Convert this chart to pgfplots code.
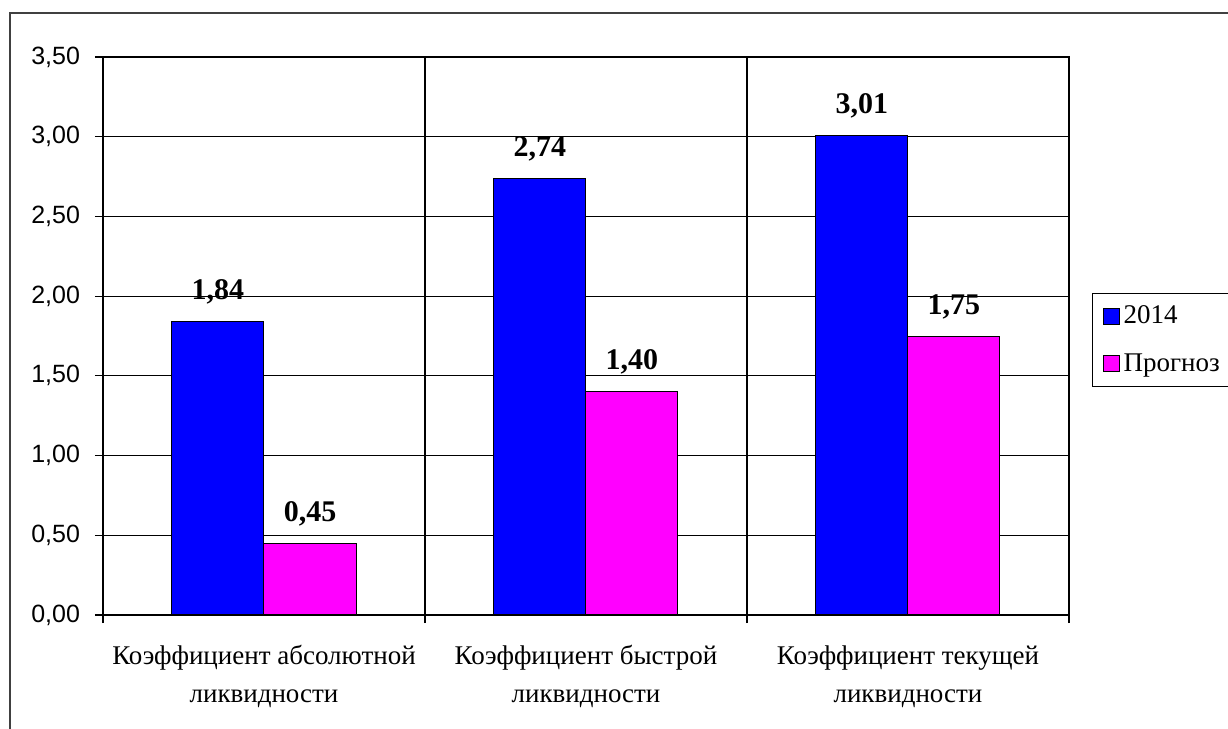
\documentclass[border=0pt]{standalone}
\usepackage{fontspec}
\usepackage{pgfplots}
\pgfplotsset{compat=1.18}
\setmainfont{Liberation Serif}
\newfontfamily\ticksans{Liberation Sans}

\definecolor{barblue}{RGB}{0,0,255}
\definecolor{barpink}{RGB}{255,0,255}
\definecolor{framegray}{RGB}{64,64,64}

\begin{document}
\begin{tikzpicture}[x=1pt,y=1pt]
\useasboundingbox (0pt,0pt) rectangle (614pt,364.5pt);
\clip (0pt,0pt) rectangle (614pt,364.5pt);
\fill[white] (0pt,0pt) rectangle (614pt,364.5pt);
% chart area frame (runs off the right and bottom edges)
\draw[line width=1pt, framegray] (5pt,-20pt) rectangle (640pt,358pt);
\begin{axis}[
  at={(51.5pt,57pt)}, anchor=south west,
  scale only axis, width=483pt, height=279pt,
  xmin=-0.5, xmax=2.5,
  ymin=0, ymax=3.5,
  ytick={0,0.5,1,1.5,2,2.5,3,3.5},
  xtick={0,1,2},
  xticklabels={{Коэффициент абсолютной\\ликвидности},
               {Коэффициент быстрой\\ликвидности},
               {Коэффициент текущей\\ликвидности}},
  minor xtick={-0.5,0.5,1.5,2.5},
  xminorgrids, ymajorgrids,
  grid style={black, line width=0.6pt},
  minor grid style={black, line width=0.6pt},
  axis line style={black, line width=0.6pt},
  tick style={black, line width=0.6pt},
  xtick pos=bottom, ytick pos=left,
  tick align=outside,
  major tick length=4pt,
  minor tick length=4pt,
  major x tick style={draw=none},
  /pgf/number format/.cd, fixed, fixed zerofill, precision=2, use comma, assume math mode=true,
  /pgfplots/.cd,
  yticklabel style={font=\ticksans\fontsize{12.5}{14}\selectfont, xshift=-4pt},
  xticklabel style={align=center, font=\fontsize{13.5}{19.5}\selectfont,
    anchor=base, yshift=-40pt},
  ybar=0pt, bar width=46pt,
  nodes near coords,
  nodes near coords style={font=\bfseries\fontsize{15}{18}\selectfont, anchor=base, yshift=11pt,
    /pgf/number format/.cd, fixed, fixed zerofill, precision=2, use comma, assume math mode=true},
  legend style={at={(1.0238,0.577)}, anchor=north west, draw=black, line width=0.6pt,
    font=\fontsize{13.5}{16}\selectfont, cells={anchor=west}, inner xsep=5pt, inner ysep=4pt,
    row sep=9.5pt},
  legend image code/.code={\draw[#1, draw=black, line width=0.5pt] (0pt,-4pt) rectangle (8pt,4pt);},
]
\addplot[fill=barblue, draw=black, line width=0.5pt] coordinates {(0,1.84) (1,2.74) (2,3.01)};
\addplot[fill=barpink, draw=black, line width=0.5pt] coordinates {(0,0.45) (1,1.40) (2,1.75)};
\legend{2014, Прогноз}
\end{axis}
\end{tikzpicture}
\end{document}
